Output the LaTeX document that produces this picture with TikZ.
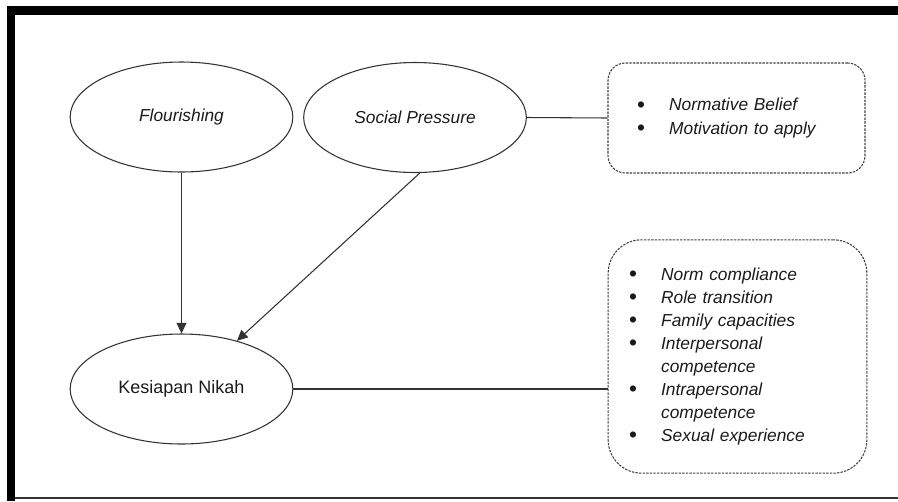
\documentclass[tikz,border=0pt]{standalone}
\usepackage{fontspec}
\setmainfont{Liberation Sans}
\usepackage{tikz}
\usetikzlibrary{positioning,arrows.meta,shapes.geometric,calc}
\definecolor{kninkblack}{HTML}{1A1A1A}
\definecolor{knlinegrey}{HTML}{333333}
\definecolor{kndashgrey}{HTML}{404040}
\newcommand{\kbul}{\makebox[24pt][l]{\raisebox{-0.8pt}{\fontsize{17}{17}\selectfont\textbullet}}}
\newcommand{\kind}{\hspace*{24pt}}

\begin{document}
\begin{tikzpicture}[x=0.75pt,y=0.75pt,
    font=\fontsize{13}{17.3}\selectfont,text=kninkblack,
    construct/.style={ellipse,draw=knlinegrey,line width=0.8pt,minimum width=167pt,minimum height=82.5pt,inner sep=0pt},
    indicators/.style={draw=kndashgrey,line width=0.8pt,dash pattern=on 1.8pt off 0.9pt,align=left,anchor=center},
    link/.style={draw=knlinegrey,line width=0.8pt,-{Triangle[length=8pt,width=7.5pt]}},
    plain/.style={draw=knlinegrey,line width=0.8pt}]
  \useasboundingbox (0,0) rectangle (898,-501);
  % frame
  \draw[black,line width=6.5pt] (898,-10.5) -- (11,-10.5) -- (11,-501);
  \draw[knlinegrey,line width=0.9pt] (15,-498) -- (898,-498);

  % constructs
  \node[construct] (fl) at (181.5,-117) {\textit{Flourishing}};
  \node[construct] (sp) at (415,-117.5) {\textit{Social Pressure}};
  \node[construct,font=\fontsize{13.5}{15}\selectfont] (kn) at (181.5,-389) {Kesiapan Nikah};

  % indicator boxes
  \node[indicators,rounded corners=13pt,minimum width=192.75pt,minimum height=82.5pt,
        text width=149pt,inner xsep=21.75pt] (sb) at (736.5,-118)
    {\kbul\textit{Normative Belief}\\
     \kbul\textit{Motivation to apply}};
  \node[indicators,rounded corners=25pt,minimum width=194pt,minimum height=175pt,
        text width=162.5pt,inner xsep=15.75pt] (kr) at (737.5,-356.5)
    {\kbul\textit{Norm compliance}\\
     \kbul\textit{Role transition}\\
     \kbul\textit{Family capacities}\\
     \kbul\textit{Interpersonal}\\
     \kind\textit{competence}\\
     \kbul\textit{Intrapersonal}\\
     \kind\textit{competence}\\
     \kbul\textit{Sexual experience}};

  % connectors
  \draw[link] (fl.south) -- (kn.north);
  \draw[link] (sp.-85) -- (kn.41);
  \draw[plain] (sp.east) -- (sb.west);
  \draw[plain] (kn.east) -- (kn.east -| kr.west);
\end{tikzpicture}
\end{document}
